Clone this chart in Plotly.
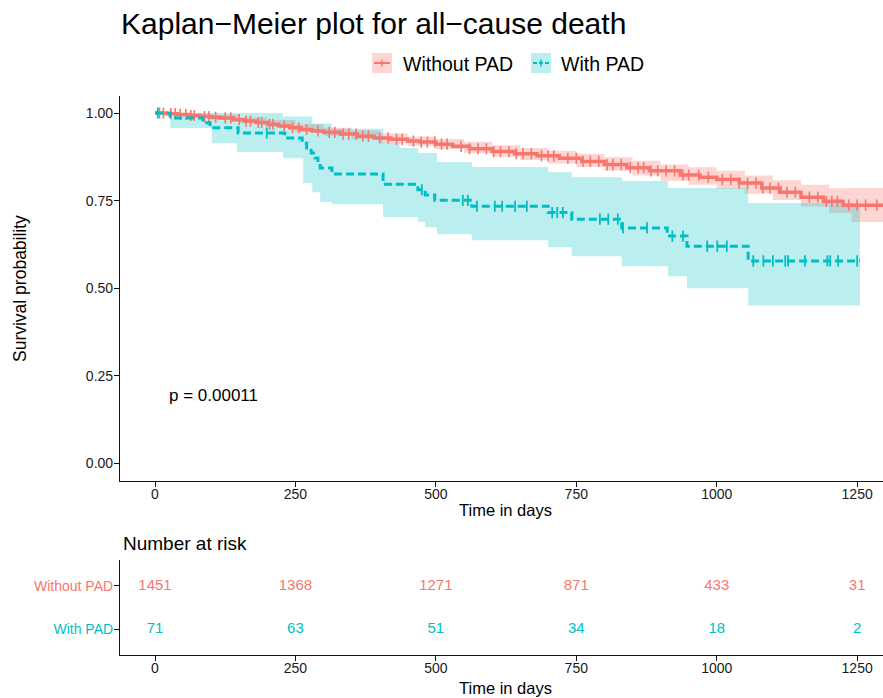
import numpy as np
import plotly.graph_objects as go

W, H = 883, 698
RED = "#F8766D"
CYAN = "#00BFC4"
RED_FILL = "rgba(248,118,109,0.30)"
CYAN_FILL = "rgba(0,191,196,0.27)"
FONT = "Liberation Sans, Arial, sans-serif"

# ---------------- data ----------------
groups = ["Without PAD", "With PAD"]

red_t = [0, 20, 40, 60, 80, 100, 116, 140, 160, 180, 200, 220, 240, 260, 280, 300,
         330, 360, 390, 420, 450, 472, 500, 530, 560, 600, 640, 680, 720, 760, 800,
         840, 880, 935, 970, 1000, 1040, 1080, 1113, 1150, 1190, 1225, 1310]
red_s = [1.0, 0.998, 0.996, 0.993, 0.990, 0.988, 0.986, 0.981, 0.977, 0.973, 0.968,
         0.963, 0.958, 0.953, 0.949, 0.945, 0.940, 0.934, 0.929, 0.925, 0.920, 0.917,
         0.911, 0.905, 0.898, 0.890, 0.884, 0.878, 0.871, 0.862, 0.853, 0.844, 0.835,
         0.823, 0.817, 0.810, 0.800, 0.786, 0.774, 0.760, 0.748, 0.737, 0.737]

red_ci_t = [0, 50, 100, 150, 200, 250, 300, 350, 400, 450, 500, 550, 600, 650, 700,
            750, 800, 850, 900, 950, 1000, 1050, 1100, 1150, 1200, 1240, 1310]
red_lo = [1.0, 0.992, 0.981, 0.971, 0.960, 0.946, 0.935, 0.925, 0.914, 0.906, 0.897,
          0.886, 0.876, 0.866, 0.856, 0.846, 0.835, 0.822, 0.807, 0.795, 0.784, 0.770,
          0.752, 0.733, 0.715, 0.689, 0.689]
red_hi = [1.0, 0.999, 0.995, 0.987, 0.980, 0.968, 0.958, 0.950, 0.942, 0.933, 0.926,
          0.918, 0.908, 0.900, 0.892, 0.884, 0.874, 0.864, 0.853, 0.845, 0.835, 0.822,
          0.808, 0.795, 0.785, 0.786, 0.786]

red_censor = [8, 15, 28, 36, 45, 55, 64, 70, 88, 96, 108, 125, 135, 150, 162, 170, 184,
              190, 204, 210, 230, 245, 256, 270, 290, 310, 320, 335, 345, 358, 370, 380,
              400, 415, 430, 440, 460, 474, 485, 498, 510, 520, 545, 560, 575, 590, 603,
              615, 630, 643, 655, 670, 688, 700, 710, 735, 750, 762, 775, 790, 805, 815,
              830, 846, 860, 870, 883, 895, 910, 925, 940, 950, 968, 985, 1010, 1025,
              1040, 1055, 1070, 1082, 1095, 1110, 1125, 1140, 1165, 1180, 1195, 1205,
              1215, 1235, 1250, 1265, 1285]

cyan_t = [0, 27, 85, 98, 148, 231, 262, 270, 278, 285, 290, 294, 315, 406, 468, 481,
          498, 564, 700, 742, 831, 912, 947, 1056, 1255]
cyan_s = [1.0, 0.986, 0.972, 0.958, 0.943, 0.929, 0.914, 0.900, 0.886, 0.872, 0.857,
          0.843, 0.826, 0.797, 0.781, 0.766, 0.751, 0.734, 0.716, 0.697, 0.672, 0.649,
          0.620, 0.578, 0.578]

cyan_ci_t = [0, 27, 101, 146, 228, 264, 280, 294, 315, 406, 436, 468, 481, 502, 564,
             700, 742, 831, 913, 947, 1056, 1255]
cyan_lo = [1.0, 0.957, 0.914, 0.889, 0.871, 0.800, 0.774, 0.746, 0.740, 0.703, 0.703,
           0.690, 0.674, 0.654, 0.637, 0.617, 0.591, 0.563, 0.534, 0.500, 0.451, 0.451]
cyan_hi = [1.0, 1.0, 1.0, 1.0, 0.990, 0.990, 0.970, 0.970, 0.955, 0.915, 0.900, 0.886,
           0.886, 0.860, 0.846, 0.831, 0.817, 0.806, 0.786, 0.786, 0.743, 0.743]

cyan_censor = [5, 199, 475, 548, 557, 573, 605, 618, 641, 662, 707, 716, 726, 792, 807,
               824, 833, 876, 921, 940, 983, 1001, 1018, 1065, 1083, 1100, 1122, 1127,
               1157, 1197, 1202, 1216, 1250]

risk_times = [0, 250, 500, 750, 1000, 1250]
risk_without = [1451, 1368, 1271, 871, 433, 31]
risk_with = [71, 63, 51, 34, 18, 2]

x_ticks = [0, 250, 500, 750, 1000, 1250]
y_ticks = [0.0, 0.25, 0.5, 0.75, 1.0]
y_ticktext = ["0.00", "0.25", "0.50", "0.75", "1.00"]
p_text = "p = 0.00011"


def step_at(t, s, q):
    idx = np.searchsorted(np.asarray(t), np.asarray(q), side="right") - 1
    return np.asarray(s)[idx]


def px(x):
    return x / W


def py(y):
    return 1 - y / H


fig = go.Figure()

# confidence bands
fig.add_trace(go.Scatter(x=red_ci_t, y=red_lo, mode="lines", line=dict(width=0, shape="hv"),
                         hoverinfo="skip", showlegend=False))
fig.add_trace(go.Scatter(x=red_ci_t, y=red_hi, mode="lines", line=dict(width=0, shape="hv"),
                         fill="tonexty", fillcolor=RED_FILL, hoverinfo="skip", showlegend=False))
fig.add_trace(go.Scatter(x=cyan_ci_t, y=cyan_lo, mode="lines", line=dict(width=0, shape="hv"),
                         hoverinfo="skip", showlegend=False))
fig.add_trace(go.Scatter(x=cyan_ci_t, y=cyan_hi, mode="lines", line=dict(width=0, shape="hv"),
                         fill="tonexty", fillcolor=CYAN_FILL, hoverinfo="skip", showlegend=False))

# survival curves
fig.add_trace(go.Scatter(x=red_t, y=red_s, mode="lines", name=groups[0],
                         line=dict(color=RED, width=3.5, shape="hv"), showlegend=False))
fig.add_trace(go.Scatter(x=red_censor, y=step_at(red_t, red_s, red_censor), mode="markers",
                         marker=dict(symbol="line-ns-open", size=8, color=RED,
                                     line=dict(color=RED, width=1.6)),
                         showlegend=False))
fig.add_trace(go.Scatter(x=cyan_t, y=cyan_s, mode="lines", name=groups[1],
                         line=dict(color=CYAN, width=3, shape="hv", dash="8px,4px"), showlegend=False))
fig.add_trace(go.Scatter(x=cyan_censor, y=step_at(cyan_t, cyan_s, cyan_censor), mode="markers",
                         marker=dict(symbol="line-ns-open", size=8, color=CYAN,
                                     line=dict(color=CYAN, width=1.8)),
                         showlegend=False))

# risk table
fig.add_trace(go.Scatter(x=risk_times, y=[2] * len(risk_times), mode="text",
                         text=[str(v) for v in risk_without], textposition="middle center",
                         textfont=dict(color=RED, size=15, family=FONT),
                         xaxis="x2", yaxis="y2", showlegend=False))
fig.add_trace(go.Scatter(x=risk_times, y=[1] * len(risk_times), mode="text",
                         text=[str(v) for v in risk_with], textposition="middle center",
                         textfont=dict(color=CYAN, size=15, family=FONT),
                         xaxis="x2", yaxis="y2", showlegend=False))

axis_common = dict(showgrid=False, zeroline=False, showline=True, linecolor="#111111",
                   linewidth=1.2, ticks="outside", ticklen=5, tickwidth=1.1, tickcolor="#111111",
                   tickfont=dict(size=14, color="#1A1A1A", family=FONT), automargin=False,
                   fixedrange=True)

x_domain = [120 / W, 1.0]
x_range = [-62.3, 1296]

fig.update_layout(
    width=W, height=H,
    margin=dict(l=0, r=0, t=0, b=0),
    paper_bgcolor="white", plot_bgcolor="white",
    template="none",
    showlegend=False,
    xaxis=dict(domain=x_domain, range=x_range, tickvals=x_ticks, anchor="y",
               ticklabelstandoff=-5, **axis_common),
    yaxis=dict(domain=[py(481), py(95.5)], range=[-0.05, 1.05], tickvals=y_ticks,
               ticktext=y_ticktext, anchor="x", ticklabelstandoff=-2, **axis_common),
    xaxis2=dict(domain=x_domain, range=x_range, tickvals=x_ticks, anchor="y2",
                ticklabelstandoff=-5, **axis_common),
    yaxis2=dict(domain=[py(655), py(560)], range=[0.4, 2.6], tickvals=[2, 1],
                ticktext=[f'<span style="color:{RED}">{groups[0]}</span>',
                          f'<span style="color:{CYAN}">{groups[1]}</span>'],
                anchor="x2", ticklabelstandoff=-2, **axis_common),
)

annotations = [
    dict(text="Kaplan\u2212Meier plot for all\u2212cause death", x=px(119), y=py(23),
         xanchor="left", yanchor="middle", font=dict(size=30, color="black", family=FONT)),
    dict(text="Survival probability", x=px(20), y=py(289), textangle=-90,
         xanchor="center", yanchor="middle", font=dict(size=17.5, color="black", family=FONT)),
    dict(text="Time in days", x=px(505), y=py(510), xanchor="center", yanchor="middle",
         font=dict(size=16.5, color="black", family=FONT)),
    dict(text="Number at risk", x=px(121), y=py(543), xanchor="left", yanchor="middle",
         font=dict(size=19, color="black", family=FONT)),
    dict(text="Time in days", x=px(505), y=py(688), xanchor="center", yanchor="middle",
         font=dict(size=16.5, color="black", family=FONT)),
    dict(text=p_text, x=px(167), y=py(395), xanchor="left", yanchor="middle",
         font=dict(size=17, color="black", family=FONT)),
    dict(text=groups[0], x=px(401), y=py(64), xanchor="left", yanchor="middle",
         font=dict(size=19.5, color="black", family=FONT)),
    dict(text=groups[1], x=px(559), y=py(64), xanchor="left", yanchor="middle",
         font=dict(size=19.5, color="black", family=FONT)),
]
for a in annotations:
    a.update(xref="paper", yref="paper", showarrow=False)
fig.update_layout(annotations=annotations)

# legend keys (decoration)
shapes = []
for x0, fillc, col, dash in [(372, RED_FILL, RED, "solid"), (531, CYAN_FILL, CYAN, "dash")]:
    shapes.append(dict(type="rect", xref="paper", yref="paper", x0=px(x0), x1=px(x0 + 20),
                       y0=py(73), y1=py(53), fillcolor=fillc, line=dict(width=0), layer="below"))
    shapes.append(dict(type="line", xref="paper", yref="paper", x0=px(x0 + 2), x1=px(x0 + 18),
                       y0=py(63), y1=py(63), line=dict(color=col, width=2,
                       dash="4px,2px" if dash == "dash" else "solid")))
    shapes.append(dict(type="line", xref="paper", yref="paper", x0=px(x0 + 10), x1=px(x0 + 10),
                       y0=py(59.5), y1=py(66.5), line=dict(color=col, width=1.5)))
fig.update_layout(shapes=shapes)

fig.write_html("out.html", config={"displayModeBar": False},
               post_script="document.body.style.margin='0';document.body.style.overflow='hidden';")
